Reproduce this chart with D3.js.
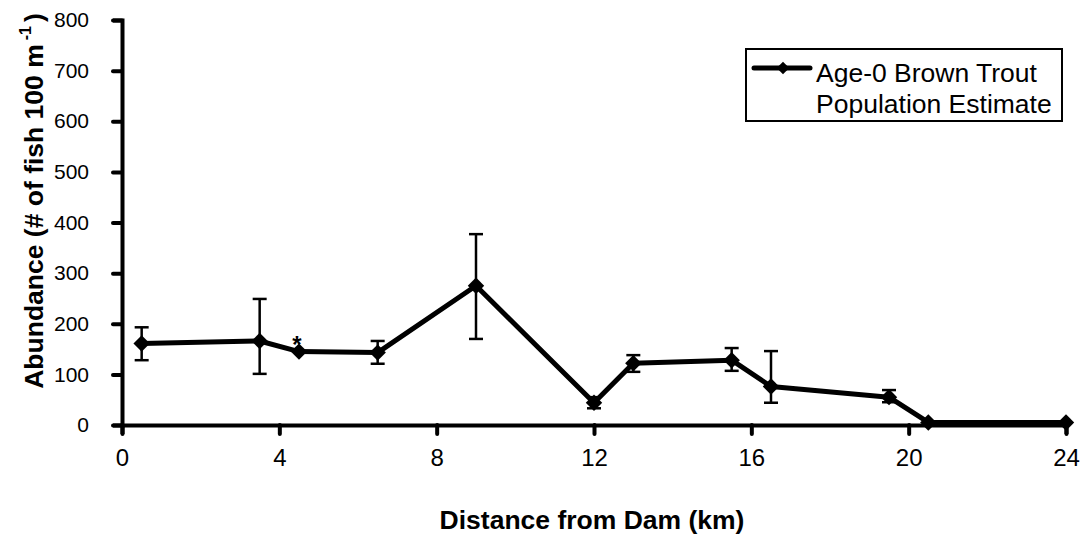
<!DOCTYPE html>
<html>
<head>
<meta charset="utf-8">
<script src="https://cdn.jsdelivr.net/npm/d3@7"></script>
<style>
  html, body { margin: 0; padding: 0; background: #fff; }
  svg { display: block; font-family: Arial, "Liberation Sans", sans-serif; }
</style>
</head>
<body>
<svg id="chart" width="1086" height="539"></svg>
<script>
// Sampling sites: distance downstream of the dam (km)
const distanceKm = [0.5, 3.5, 4.5, 6.5, 9, 12, 13, 15.5, 16.5, 19.5, 20.5, 24];
// Age-0 brown trout population estimate (# of fish per 100 m)
const abundance = [161, 166, 145, 143, 275, 44, 122, 128, 76, 55, 5, 5];
// Confidence limits (null where no interval was drawn)
const lowerCI = [128, 101, null, 121, 170, 33, 105, 107, 44, 45, null, null];
const upperCI = [193, 249, null, 166, 377, 55, 138, 152, 146, 69, null, null];
// Sites flagged with an asterisk
const flagged = [4.5];

const xTicks = [0, 4, 8, 12, 16, 20, 24];
const yTicks = [0, 100, 200, 300, 400, 500, 600, 700, 800];

const svg = d3.select("#chart");

const x = d3.scaleLinear().domain([0, 24]).range([122, 1066]);
const y = d3.scaleLinear().domain([0, 800]).range([425, 20]);

// Axes
const xAxis = svg.append("g")
  .attr("transform", `translate(0,${y(0)})`)
  .call(d3.axisBottom(x).tickValues(xTicks).tickSize(9).tickPadding(32).tickFormat(d3.format("d")));
const yAxis = svg.append("g")
  .attr("transform", `translate(${x(0)},0)`)
  .call(d3.axisLeft(y).tickValues(yTicks).tickSize(9).tickPadding(24).tickFormat(d3.format("d")));

[xAxis, yAxis].forEach(g => {
  g.select(".domain").attr("stroke", "#000").attr("stroke-width", 4);
  g.selectAll(".tick line").attr("stroke", "#000").attr("stroke-width", 4).attr("stroke-linecap", "round");
  g.selectAll(".tick text").attr("fill", "#000").style("font-family", "Arial, 'Liberation Sans', sans-serif");
});
xAxis.selectAll(".tick text").style("font-size", "24px").attr("dy", "0");
yAxis.selectAll(".tick text").style("font-size", "21px");

// Axis titles
svg.append("text")
  .attr("x", 592).attr("y", 529)
  .attr("text-anchor", "middle")
  .style("font-size", "26.5px").style("font-weight", "bold")
  .text("Distance from Dam (km)");

const yTitle = svg.append("text")
  .attr("transform", "translate(43,201) rotate(-90)")
  .attr("text-anchor", "middle")
  .style("font-size", "26.5px").style("font-weight", "bold");
yTitle.append("tspan").text("Abundance (# of fish 100 m");
yTitle.append("tspan").attr("dx", 4).attr("dy", -12).style("font-size", "16px").text("-1");
yTitle.append("tspan").attr("dx", 4).attr("dy", 12).text(")");

// Error bars
const pts = distanceKm.map((d, i) => ({ d, v: abundance[i], lo: lowerCI[i], hi: upperCI[i] }));
const withCI = pts.filter(p => p.lo !== null);
const capHalf = 7;
const eb = svg.append("g").attr("stroke", "#000").attr("stroke-width", 2.5);
eb.selectAll("line.stem").data(withCI).join("line")
  .attr("x1", p => x(p.d)).attr("x2", p => x(p.d))
  .attr("y1", p => y(p.lo)).attr("y2", p => y(p.hi));
eb.selectAll("line.top").data(withCI).join("line")
  .attr("x1", p => x(p.d) - capHalf).attr("x2", p => x(p.d) + capHalf)
  .attr("y1", p => y(p.hi)).attr("y2", p => y(p.hi));
eb.selectAll("line.bot").data(withCI).join("line")
  .attr("x1", p => x(p.d) - capHalf).attr("x2", p => x(p.d) + capHalf)
  .attr("y1", p => y(p.lo)).attr("y2", p => y(p.lo));

// Series line
svg.append("path")
  .datum(pts)
  .attr("fill", "none").attr("stroke", "#000").attr("stroke-width", 5)
  .attr("stroke-linejoin", "round")
  .attr("d", d3.line().x(p => x(p.d)).y(p => y(p.v)));

// Diamond markers
svg.append("g").selectAll("path").data(pts).join("path")
  .attr("transform", p => `translate(${x(p.d)},${y(p.v)}) rotate(45)`)
  .attr("d", d3.symbol().type(d3.symbolSquare).size(135))
  .attr("fill", "#000");

// Asterisk flags, drawn just above their markers
svg.append("g").selectAll("text").data(flagged).join("text")
  .attr("x", d => x(d) - 2)
  .attr("y", d => y(abundance[distanceKm.indexOf(d)]) + 1)
  .attr("text-anchor", "middle")
  .style("font-size", "24px").style("font-weight", "bold")
  .text("*");

// Legend
const lg = svg.append("g");
lg.append("rect")
  .attr("x", 746).attr("y", 49).attr("width", 316).attr("height", 72)
  .attr("fill", "#fff").attr("stroke", "#000").attr("stroke-width", 2);
lg.append("line")
  .attr("x1", 754).attr("x2", 810).attr("y1", 68).attr("y2", 68)
  .attr("stroke", "#000").attr("stroke-width", 5).attr("stroke-linecap", "round");
lg.append("path")
  .attr("transform", "translate(783,68) rotate(45)")
  .attr("d", d3.symbol().type(d3.symbolSquare).size(80))
  .attr("fill", "#000");
lg.append("text").attr("x", 816).attr("y", 82)
  .style("font-size", "26.5px").text("Age-0 Brown Trout");
lg.append("text").attr("x", 816).attr("y", 113)
  .style("font-size", "26.5px").text("Population Estimate");
</script>
</body>
</html>
